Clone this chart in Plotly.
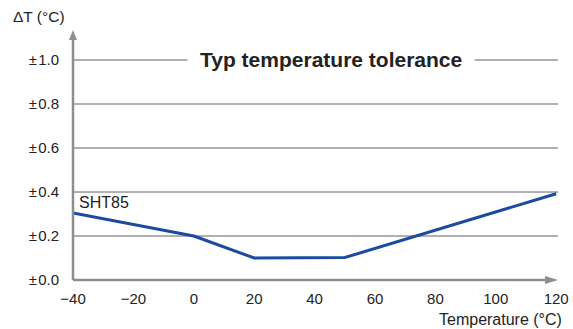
import plotly.graph_objects as go

temps = [-40, 0, 20, 50, 120]
tolerance = [0.305, 0.2, 0.1, 0.102, 0.392]
y_ticks = [0.0, 0.2, 0.4, 0.6, 0.8, 1.0]
y_tick_labels = ["±\u200a0.0", "±\u200a0.2", "±\u200a0.4", "±\u200a0.6", "±\u200a0.8", "±\u200a1.0"]
x_ticks = [-40, -20, 0, 20, 40, 60, 80, 100, 120]
x_tick_labels = ["\u221240", "\u221220", "0", "20", "40", "60", "80", "100", "120"]
series_name = "SHT85"
title_text = "Typ temperature tolerance"

FONT = "Liberation Sans, Arial, sans-serif"
AXIS = "#8e8e8e"
GRID = "#b0b0b0"
TXT = "#222222"

fig = go.Figure()
fig.add_trace(go.Scatter(
    x=temps, y=tolerance, mode="lines", name=series_name,
    line=dict(color="#1b4a9e", width=3), hoverinfo="skip"))

fig.update_layout(
    template="none",
    width=573, height=329,
    margin=dict(l=73, r=15, t=30, b=49, autoexpand=False),
    paper_bgcolor="white", plot_bgcolor="white",
    showlegend=False,
    font=dict(family=FONT, size=15, color=TXT),
    xaxis=dict(range=[-40, 120.6], tickvals=x_ticks, ticktext=x_tick_labels,
               showgrid=False, zeroline=False, showline=False, automargin=False,
               ticks="", ticklabelstandoff=8, tickfont=dict(size=15, color=TXT)),
    yaxis=dict(range=[0, 1.136], tickvals=y_ticks, ticktext=y_tick_labels,
               showgrid=True, gridcolor=GRID, gridwidth=1.5, zeroline=False,
               showline=False, ticks="", ticklabelstandoff=13, automargin=False,
               tickfont=dict(size=15, color=TXT)),
)

# axis lines with arrowheads
fig.add_shape(type="line", xref="paper", yref="paper", x0=0, x1=0.985, y0=0, y1=0,
              line=dict(color=AXIS, width=2.5), layer="above")
fig.add_shape(type="line", xref="paper", yref="paper", x0=0, x1=0, y0=0, y1=0.96,
              line=dict(color=AXIS, width=2.5), layer="above")
fig.add_shape(type="path", xref="paper", yref="paper", xsizemode="pixel", ysizemode="pixel",
              xanchor=1, yanchor=0, path="M 0 0 L -13 4 L -13 -4 Z",
              fillcolor=AXIS, line=dict(width=0), layer="above")
fig.add_shape(type="path", xref="paper", yref="paper", xsizemode="pixel", ysizemode="pixel",
              xanchor=0, yanchor=1, path="M 0 0 L -4 -10 L 4 -10 Z",
              fillcolor=AXIS, line=dict(width=0), layer="above")

fig.add_annotation(x=45.4, y=1.0, xref="x", yref="y", text="<b>" + title_text + "</b>",
                   showarrow=False, font=dict(size=21, color=TXT),
                   bgcolor="white", borderpad=12, xanchor="center", yanchor="middle")
fig.add_annotation(x=-40, y=0.35, xref="x", yref="y", text=series_name, showarrow=False,
                   xanchor="left", yanchor="middle", xshift=4, font=dict(size=16, color=TXT))
fig.add_annotation(xref="paper", yref="paper", x=-0.012, y=1.055, text="ΔT (°C)",
                   showarrow=False, xanchor="right", yanchor="middle",
                   font=dict(size=15.5, color=TXT))
fig.add_annotation(xref="paper", yref="paper", x=1.012, y=-0.156, text="Temperature (°C)",
                   showarrow=False, xanchor="right", yanchor="middle",
                   font=dict(size=16, color=TXT))

fig.write_html("out.html", config={"displayModeBar": False},
               post_script="document.body.style.margin='0';document.body.style.overflow='hidden';")
